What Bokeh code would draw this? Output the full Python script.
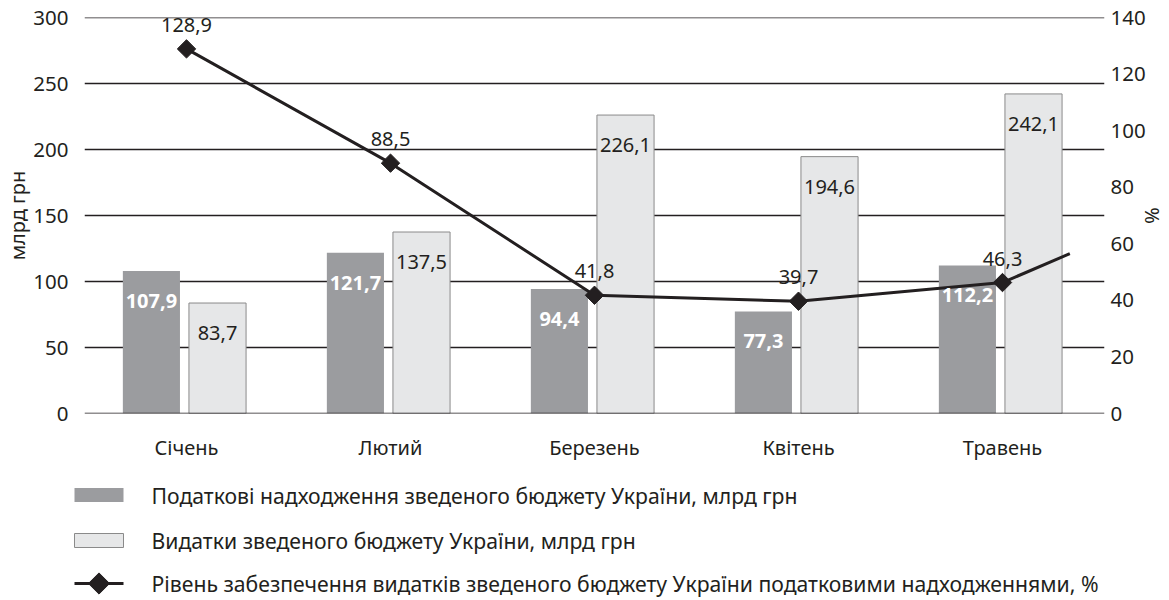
import math
from bokeh.plotting import figure
from bokeh.layouts import column
from bokeh.models import (Range1d, LinearAxis, FixedTicker, ColumnDataSource,
                          LabelSet, Span)
from bokeh.transform import dodge
from bokeh.core.properties import value
from bokeh.embed import file_html
from bokeh.resources import INLINE

# ---- data ----
months = ["Січень", "Лютий", "Березень", "Квітень", "Травень"]
tax_revenue = [107.9, 121.7, 94.4, 77.3, 112.2]      # млрд грн
expenditures = [83.7, 137.5, 226.1, 194.6, 242.1]    # млрд грн
coverage_pct = [128.9, 88.5, 41.8, 39.7, 46.3]       # %
tail_pct = 56.5                                      # line continues past last month
left_ticks = [0, 50, 100, 150, 200, 250, 300]
right_ticks = [0, 20, 40, 60, 80, 100, 120, 140]

legend_labels = [
    "Податкові надходження зведеного бюджету України, млрд грн",
    "Видатки зведеного бюджету України, млрд грн",
    "Рівень забезпечення видатків зведеного бюджету України податковими надходженнями, %",
]

FONT = "Noto Sans"
INK = "#231f20"
DARK = "#9b9c9f"
LIGHT = "#e6e7e8"
W = 1169

def fmt(v):
    return f"{v:.1f}".replace(".", ",")

xc = [i + 0.5 for i in range(len(months))]
src = ColumnDataSource(dict(
    x=xc,
    tax=tax_revenue,
    exp=expenditures,
    pct=coverage_pct,
    tax_lbl=[fmt(v) for v in tax_revenue],
    exp_lbl=[fmt(v) for v in expenditures],
    pct_lbl=[fmt(v) for v in coverage_pct],
))

p = figure(width=W, height=470, output_backend="svg", toolbar_location=None,
           x_range=Range1d(0, len(months)), y_range=Range1d(0, 300),
           min_border_left=84, min_border_right=65, min_border_top=17, min_border_bottom=57,
           y_axis_location=None)
p.frame_align = False
p.extra_y_ranges = {"pct": Range1d(0, 140)}
p.outline_line_color = None
p.background_fill_color = "white"
p.border_fill_color = "white"

# grid
p.xgrid.visible = False
p.ygrid.ticker = FixedTicker(ticks=left_ticks)
p.ygrid.grid_line_color = INK
p.ygrid.grid_line_width = 1.3
for edge in (left_ticks[0], left_ticks[-1]):
    p.add_layout(Span(location=edge, dimension="width", line_color=INK, line_width=1.3))

# axes
def style_axis(ax):
    ax.axis_line_color = None
    ax.major_tick_line_color = None
    ax.minor_tick_line_color = None
    ax.major_label_text_font = FONT
    ax.major_label_text_font_size = "20.5px"
    ax.major_label_text_color = INK
    ax.axis_label_text_font = FONT
    ax.axis_label_text_font_size = "20px"
    ax.axis_label_text_font_style = "normal"
    ax.axis_label_text_color = INK

yl = LinearAxis(ticker=FixedTicker(ticks=left_ticks), major_label_standoff=10,
                axis_label="млрд грн", axis_label_standoff=-1)
style_axis(yl)
p.add_layout(yl, "left")
yr = LinearAxis(y_range_name="pct", ticker=FixedTicker(ticks=right_ticks), major_label_standoff=0,
                axis_label="%", axis_label_standoff=-10)
style_axis(yr)
p.add_layout(yr, "right")

xa = p.xaxis[0]
xa.ticker = FixedTicker(ticks=xc)
xa.major_label_overrides = {x: m for x, m in zip(xc, months)}
xa.major_label_standoff = 14
style_axis(xa)
xa.major_label_text_font_size = "20px"

# bars
p.vbar(x=dodge("x", -0.172, range=p.x_range), top="tax", width=0.28, bottom=0,
       source=src, fill_color=DARK, line_color=None)
p.vbar(x=dodge("x", 0.152, range=p.x_range), top="exp", width=0.28, bottom=0,
       source=src, fill_color=LIGHT, line_color="#8a8a8a", line_width=1)

# line (with its tail past the last month)
tail_x = xc[-1] + 0.33
p.line(x=[xc[-1], tail_x], y=[coverage_pct[-1], tail_pct], y_range_name="pct",
       line_color=INK, line_width=3)
p.line(x="x", y="pct", source=src, y_range_name="pct", line_color=INK, line_width=3)
p.scatter(x="x", y="pct", source=src, y_range_name="pct", marker="square",
          angle=math.pi / 4, size=13, fill_color=INK, line_color=INK)

# labels
p.add_layout(LabelSet(x=dodge("x", -0.172, range=p.x_range), y="tax", text="tax_lbl", source=src,
                      y_offset=-30, text_align="center", text_baseline="middle",
                      text_font=value(FONT), text_font_size="20px", text_font_style="bold",
                      text_color="white"))
p.add_layout(LabelSet(x=dodge("x", 0.152, range=p.x_range), y="exp", text="exp_lbl", source=src,
                      y_offset=-30, text_align="center", text_baseline="middle",
                      text_font=value(FONT), text_font_size="20px", text_color=INK))
p.add_layout(LabelSet(x="x", y="pct", text="pct_lbl", source=src, y_range_name="pct",
                      y_offset=24, text_align="center", text_baseline="middle",
                      text_font=value(FONT), text_font_size="20px", text_color=INK))

# ---- legend (separate strip below, pixel coordinates, y downwards) ----
LH = 130
leg = figure(width=W, height=LH, output_backend="svg", toolbar_location=None,
             x_range=Range1d(0, W), y_range=Range1d(LH, 0),
             x_axis_location=None, y_axis_location=None,
             min_border_left=0, min_border_right=0, min_border_top=0, min_border_bottom=0)
leg.frame_align = False
leg.grid.visible = False
leg.outline_line_color = None
leg.background_fill_color = "white"
leg.border_fill_color = "white"

rows = [24.5, 70, 113]
sw_l, sw_r, sw_h = 74, 123, 14
text_x = 151
leg.quad(left=[sw_l], right=[sw_r], top=[rows[0] - sw_h / 2], bottom=[rows[0] + sw_h / 2],
         fill_color=DARK, line_color=None)
leg.quad(left=[sw_l], right=[sw_r], top=[rows[1] - sw_h / 2], bottom=[rows[1] + sw_h / 2],
         fill_color=LIGHT, line_color="#8a8a8a", line_width=1)
leg.line(x=[sw_l, sw_r], y=[rows[2], rows[2]], line_color=INK, line_width=3)
leg.scatter(x=[(sw_l + sw_r) / 2], y=[rows[2]], marker="square", angle=math.pi / 4, size=15,
            fill_color=INK, line_color=INK)
leg.text(x=[text_x] * 3, y=rows, text=legend_labels, text_align="left", text_baseline="middle",
         text_font=value(FONT), text_font_size="21.2px", text_color=INK)

layout = column(p, leg, spacing=0)
open("out.html", "w").write(file_html(layout, INLINE))
